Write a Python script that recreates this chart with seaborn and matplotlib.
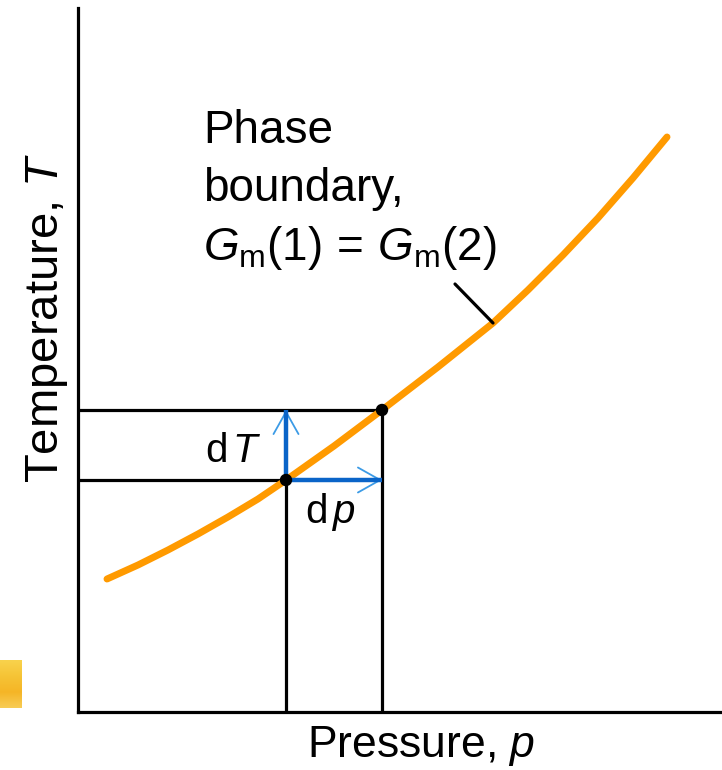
import matplotlib
matplotlib.use("Agg")
import matplotlib.pyplot as plt
import numpy as np
import seaborn as sns
from matplotlib.colors import LinearSegmentedColormap

# Phase boundary T(p) in plot units (origin at the axes corner)
boundary_p = [29, 60, 90, 120, 150, 180, 208, 256, 304, 360, 415, 450, 485, 520, 555, 589]
boundary_T = [133, 147, 162, 178, 195, 213, 232, 266, 302, 345, 389, 422, 457, 494, 534, 575]

# Two neighbouring states on the boundary: (p, T) and (p + dp, T + dT)
state_p = [208, 304]
state_T = [232, 302]

# Leader line from the label to the curve
leader_p = [377, 415]
leader_T = [428, 389]

p_range = (0, 644)
T_range = (0, 704)

sns.set_style("white")
plt.rcParams["font.family"] = ["Liberation Sans", "DejaVu Sans"]
plt.rcParams["text.color"] = "black"
plt.rcParams["mathtext.fontset"] = "custom"
plt.rcParams["mathtext.rm"] = "Liberation Sans"
plt.rcParams["mathtext.it"] = "Liberation Sans:italic"

ORANGE = "#FF9A00"
BLUE = "#0A64C8"
LIGHT_BLUE = "#3C9BE6"

fig = plt.figure(figsize=(7.22, 7.70), dpi=100)
ax = fig.add_axes([78 / 722, 58 / 770, 644 / 722, 704 / 770])
ax.set_xlim(*p_range)
ax.set_ylim(*T_range)

# Guide lines from the axes to the two states
for p, T in zip(state_p, state_T):
    ax.plot([p_range[0], p], [T, T], color="black", lw=2.3, solid_capstyle="butt", zorder=2)
    ax.plot([p, p], [T_range[0], T], color="black", lw=2.3, solid_capstyle="butt", zorder=2)

# Phase boundary curve
sns.lineplot(x=boundary_p, y=boundary_T, sort=False, color=ORANGE, lw=5.0,
             ax=ax, zorder=3)
for ln in ax.lines[-1:]:
    ln.set_solid_joinstyle("round")

# dp and dT arrows
p0, p1 = state_p
T0, T1 = state_T
for start, tip in [((p0, T0), (p0, T1)), ((p0, T0), (p1, T0))]:
    ax.annotate("", xy=tip, xytext=start,
                arrowprops=dict(arrowstyle="->,head_length=1.6,head_width=0.9",
                                color=LIGHT_BLUE, lw=1.3, shrinkA=0, shrinkB=0),
                zorder=4)
    ax.plot([start[0], tip[0]], [start[1], tip[1]], color=BLUE, lw=3.2,
            solid_capstyle="butt", zorder=5)

# States on the boundary
sns.scatterplot(x=state_p, y=state_T, color="black", s=80, ax=ax, zorder=6,
                edgecolor="none")

# Leader line
ax.plot(leader_p, leader_T, color="black", lw=2.3, zorder=4)

# Annotations
ax.text(125, 569, "Phase", fontsize=33, ha="left", va="baseline")
ax.text(125, 511, "boundary,", fontsize=33, ha="left", va="baseline")
ax.text(125, 452, r"$G_{\mathrm{m}}(1)\,=\,G_{\mathrm{m}}(2)$", fontsize=33,
        ha="left", va="baseline")
ax.text(127, 250, r"d$\,T$", fontsize=29, ha="left", va="baseline")
ax.text(227, 189, r"d$\,p$", fontsize=29, ha="left", va="baseline")

# Axis titles
ax.text(-20, 394, r"Temperature, $T$", fontsize=34, rotation=90,
        rotation_mode="anchor", ha="center", va="baseline", clip_on=False)
ax.text(343, -45, r"Pressure, $p$", fontsize=32, ha="center", va="baseline",
        clip_on=False)

ax.set_xticks([])
ax.set_yticks([])
for side in ("top", "right"):
    ax.spines[side].set_visible(False)
for side in ("left", "bottom"):
    ax.spines[side].set_linewidth(2.3)
    ax.spines[side].set_color("black")

# Slide-edge colour swatch
sw = fig.add_axes([0, 62 / 770, 22 / 722, 48 / 770])
grad = np.linspace(0, 1, 64).reshape(-1, 1)
cmap = LinearSegmentedColormap.from_list("sw", ["#F9D24C", "#F6C436", "#F5B526", "#F8CC55"])
sw.imshow(grad, aspect="auto", cmap=cmap)
sw.axis("off")

fig.savefig("out.png", dpi=100)
